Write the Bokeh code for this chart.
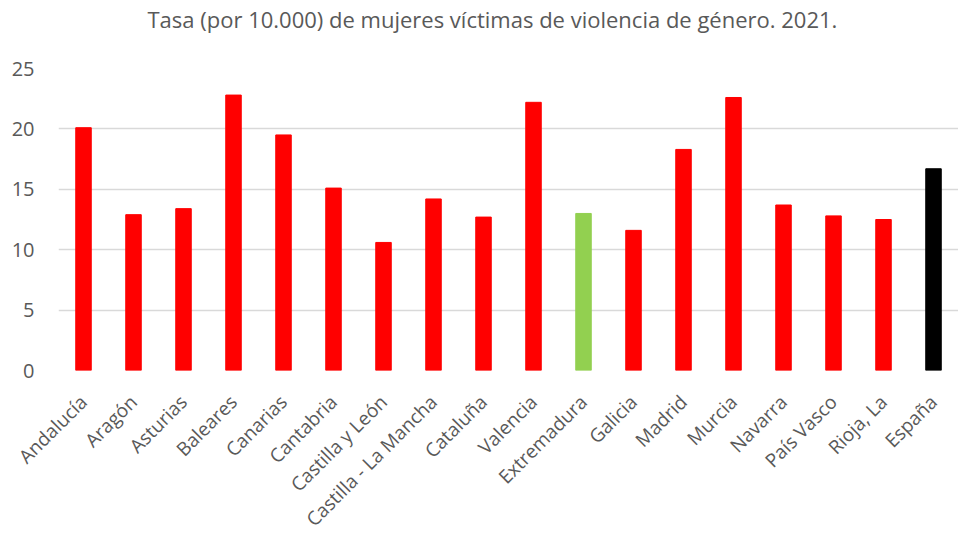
import math
from bokeh.plotting import figure
from bokeh.models import ColumnDataSource, FactorRange, Title
from bokeh.embed import file_html
from bokeh.resources import INLINE

title_text = "Tasa (por 10.000) de mujeres víctimas de violencia de género. 2021."
regions = ["Andalucía", "Aragón", "Asturias", "Baleares", "Canarias", "Cantabria",
           "Castilla y León", "Castilla - La Mancha", "Cataluña", "Valencia",
           "Extremadura", "Galicia", "Madrid", "Murcia", "Navarra", "País Vasco",
           "Rioja, La", "España"]
rates = [20.1, 12.9, 13.4, 22.8, 19.5, 15.1, 10.6, 14.2, 12.7, 22.2,
         13.0, 11.6, 18.3, 22.6, 13.7, 12.8, 12.5, 16.7]
bar_colors = ["#FF0000"] * 10 + ["#92D050"] + ["#FF0000"] * 6 + ["#000000"]
y_ticks = [0, 5, 10, 15, 20, 25]

FONT = "Open Sans"
GREY = "#595959"

src = ColumnDataSource(dict(x=regions, top=rates, color=bar_colors))

p = figure(x_range=FactorRange(*regions, range_padding=0), y_range=(0, 25),
           frame_width=900, frame_height=302,
           output_backend="svg", toolbar_location=None,
           min_border_left=58, min_border_right=0, min_border_top=68,
           min_border_bottom=0, outline_line_color=None)

p.vbar(x="x", top="top", width=0.31, color="color", source=src)

p.title.text = title_text
p.title.align = "left"
p.title.offset = 89
p.title.text_font = FONT
p.title.text_font_size = "22px"
p.title.text_font_style = "normal"
p.title.text_color = GREY
p.title.standoff = 0

spacer = Title(text=" ", text_font=FONT, text_font_size="24px", standoff=0)
p.add_layout(spacer, "above")

p.xgrid.grid_line_color = None
p.ygrid.grid_line_color = "#D9D9D9"
p.ygrid.grid_line_width = 1.5
p.yaxis.ticker = y_ticks

for ax in (p.xaxis, p.yaxis):
    ax.axis_line_color = None
    ax.major_tick_line_color = None
    ax.minor_tick_line_color = None
    ax.major_label_text_font = FONT
    ax.major_label_text_color = GREY

p.yaxis.major_label_text_font_size = "20px"
p.xaxis.major_label_text_font_size = "19px"
p.yaxis.major_label_standoff = 18
p.xaxis.major_label_orientation = math.pi / 4
p.xaxis.major_label_standoff = 22

open("out.html", "w").write(file_html(p, INLINE))
